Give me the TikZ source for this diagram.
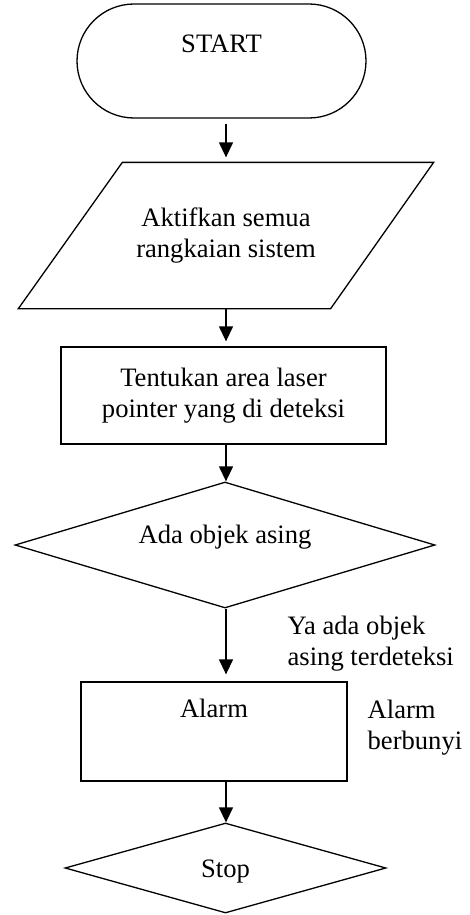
\documentclass[tikz,border=0pt]{standalone}
\usepackage{fontspec}
\setmainfont{Liberation Serif}
\usetikzlibrary{shapes.geometric,arrows.meta}
\begin{document}
\begin{tikzpicture}[x=1pt,y=-1pt,
  every node/.style={font=\fontsize{26.6}{31.5}\selectfont, inner sep=0pt, line width=1.3pt},
  box/.style={draw, rectangle, align=center},
  arr/.style={line width=1.3pt, -{Triangle[length=15pt,width=14pt]}},
  lbl/.style={align=left, anchor=north west}
]
\useasboundingbox (0,0) rectangle (470,915);
\coordinate (ax) at (226,0);
% START terminal
\node[draw, rectangle, rounded corners=57pt, minimum width=289pt, minimum height=114pt,
      text height=49pt, text depth=65pt] (start) at (221.5,61) {START};
% input/output parallelogram (frame of the node drawn as a slanted outline)
\node[rectangle, minimum width=414pt, minimum height=145pt, align=center]
      (io) at (226,235.5) {Aktifkan semua\\rangkaian sistem};
\draw[line width=1.3pt, line join=miter]
  ([xshift=104pt]io.north west) -- (io.north east)
  -- ([xshift=-103pt]io.south east) -- (io.south west) -- cycle;
% process
\node[box, minimum width=325pt, minimum height=97pt] (proc) at (223.5,395.5)
      {Tentukan area laser\\pointer yang di deteksi};
% decision
\node[draw, diamond, aspect=3.33, minimum width=420pt, minimum height=126pt,
      text height=18pt, text depth=22pt] (dec) at (225,545) {Ada objek asing};
% alarm
\node[draw, rectangle, minimum width=266pt, minimum height=99pt,
      text height=35pt, text depth=64pt] (alarm) at (214,731.5) {Alarm};
% stop
\node[draw, diamond, aspect=3.57, minimum width=321pt, minimum height=90pt,
      text height=18pt, text depth=0pt] (stop) at (225.5,868) {Stop};
% labels
\node[lbl] (lya) at (287,615) {Ya ada objek\\asing terdeteksi};
\node[lbl] (lal) at (367,699) {Alarm\\berbunyi};
% connectors
\draw[arr] ([yshift=-5pt]start.south -| ax) -- ([yshift=5pt]io.north -| ax);
\draw[arr] (io.south -| ax) -- ([yshift=5pt]proc.north -| ax);
\draw[arr] (proc.south -| ax) -- (dec.north -| ax);
\draw[arr] (dec.south -| ax) -- ([yshift=7pt]alarm.north -| ax);
\draw[arr] (alarm.south -| ax) -- (stop.north -| ax);
\end{tikzpicture}
\end{document}
